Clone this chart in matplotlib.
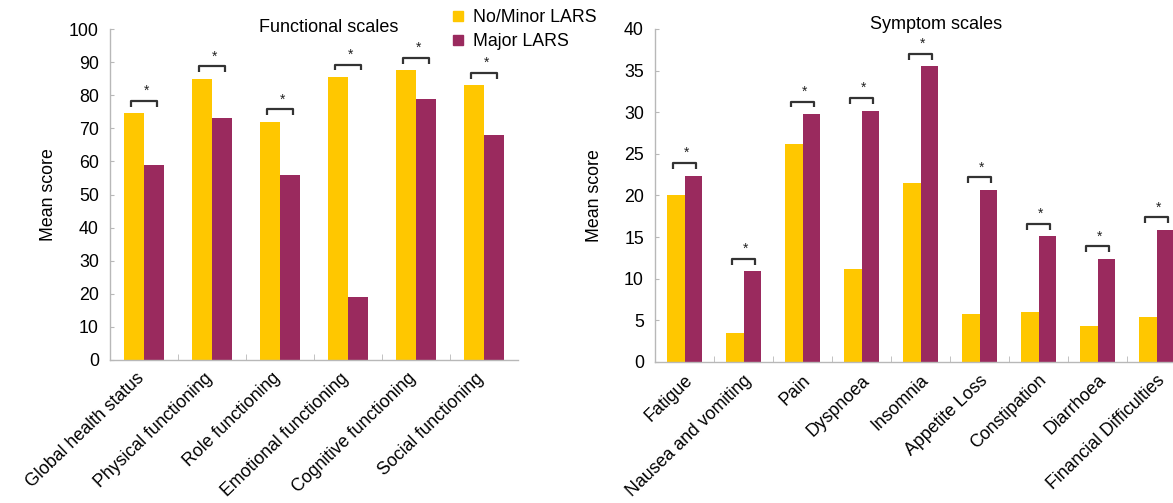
import matplotlib
matplotlib.use("Agg")
import matplotlib.pyplot as plt
from matplotlib.lines import Line2D
import numpy as np

plt.rcParams['font.family'] = ['Liberation Sans', 'DejaVu Sans']

# Functional scales (higher = better)
functional_labels = ["Global health status", "Physical functioning", "Role functioning",
                     "Emotional functioning", "Cognitive functioning", "Social functioning"]
functional_minor = [74.5, 85.0, 72.0, 85.5, 87.5, 83.0]
functional_major = [59.0, 73.0, 56.0, 19.0, 79.0, 68.0]

# Symptom scales (higher = worse)
symptom_labels = ["Fatigue", "Nausea and vomiting", "Pain", "Dyspnoea", "Insomnia",
                  "Appetite Loss", "Constipation", "Diarrhoea", "Financial Difficulties"]
symptom_minor = [20.0, 3.5, 26.2, 11.2, 21.5, 5.8, 6.0, 4.3, 5.4]
symptom_major = [22.4, 10.9, 29.8, 30.2, 35.5, 20.7, 15.1, 12.4, 15.9]

series_names = ["No/Minor LARS", "Major LARS"]

YELLOW = "#FFC700"
PURPLE = "#9A2A5E"
SPINE = "#b8b8b8"

W, H = 1173, 503
fig = plt.figure(figsize=(W / 100, H / 100), dpi=100)


def panel(rect, labels, minor, major, ymax, ystep, title, title_x, title_y, ylabel_x, label_dx):
    ax = fig.add_axes(rect)
    x = np.arange(len(labels))
    bw = 0.29
    ax.bar(x - bw / 2, minor, bw, color=YELLOW, zorder=2)
    ax.bar(x + bw / 2, major, bw, color=PURPLE, zorder=2)

    ax.set_xlim(-0.5, len(labels) - 0.5)
    ax.set_ylim(0, ymax)
    ax.set_yticks(np.arange(0, ymax + ystep / 2, ystep))
    ax.set_xticks(x)
    ax.set_xticklabels([])
    # rotated category labels, anchored under each group
    for xi, lab in zip(x, labels):
        ax.annotate(lab, xy=(xi, 0), xycoords=('data', 'axes fraction'),
                    xytext=(label_dx, -7), textcoords='offset points',
                    rotation=44, ha='right', va='top', rotation_mode='anchor',
                    fontsize=12.8, annotation_clip=False)
    ax.set_xticks(np.arange(0.5, len(labels) - 0.5, 1), minor=True)
    ax.tick_params(axis='x', which='major', length=0)
    ax.tick_params(axis='x', which='minor', direction='in', length=4, color=SPINE)
    ax.tick_params(axis='y', direction='in', length=3, color=SPINE, labelsize=12.8, pad=8)
    for s in ('top', 'right'):
        ax.spines[s].set_visible(False)
    for s in ('left', 'bottom'):
        ax.spines[s].set_color(SPINE)
        ax.spines[s].set_linewidth(1.0)
    ax.set_ylabel("Mean score", fontsize=12.8)
    ax.yaxis.set_label_coords(ylabel_x, 0.5)
    ax.text(title_x, title_y, title, transform=ax.transAxes, ha='center', va='center', fontsize=13)

    # significance brackets above each pair
    off = 0.037 * ymax
    drop = 0.017 * ymax
    for xi, a, b in zip(x, minor, major):
        top = max(a, b) + off
        xl, xr = xi - 0.19, xi + 0.19
        ax.plot([xl, xl, xr, xr], [top - drop, top, top, top - drop],
                color="#333333", lw=1.6, solid_capstyle='butt', clip_on=False, zorder=3)
        ax.text(xi + 0.03, top + 0.03 * ymax, "*", ha='center', va='center',
                fontsize=10, color="#222222")
    return ax


ax1 = panel([110 / W, 1 - 360 / H, 408 / W, 331 / H], functional_labels,
            functional_minor, functional_major, 100, 10, "Functional scales",
            0.535, 1.006, -0.13, -6)
ax2 = panel([655 / W, 1 - 362 / H, 531 / W, 333 / H], symptom_labels,
            symptom_minor, symptom_major, 40, 5, "Symptom scales",
            0.53, 1.015, -0.098, 0)

handles = [Line2D([], [], marker='s', linestyle='none', markersize=7,
                  markerfacecolor=c, markeredgecolor=c) for c in (YELLOW, PURPLE)]
fig.legend(handles, series_names, loc='upper left', bbox_to_anchor=(451 / W, 1 - 9 / H),
           frameon=False, fontsize=12.8, handlelength=0.8, handletextpad=0.45,
           labelspacing=0.4, borderaxespad=0, borderpad=0)

fig.savefig("out.png", dpi=100)
